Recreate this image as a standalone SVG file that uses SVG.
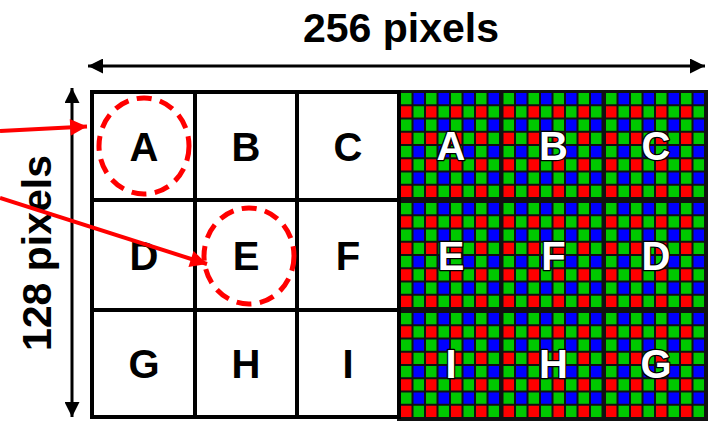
<svg xmlns="http://www.w3.org/2000/svg" width="711" height="421" viewBox="0 0 711 421">
<style>
.lbl{font-family:"Liberation Sans",Arial,sans-serif;font-weight:bold;font-size:40px;text-anchor:middle}
.dark{fill:#000}
.light{fill:#fff;stroke:#000;stroke-width:2.5;paint-order:stroke;stroke-linejoin:round}
.grid{fill:none;stroke:#000;stroke-width:4}
.ring{fill:none;stroke:#ff0000;stroke-width:5;stroke-dasharray:15 8.5}
.red{stroke:#ff0000;stroke-width:4;fill:none}
.blk{stroke:#000;stroke-width:3;fill:none}
.title{font-family:"Liberation Sans",Arial,sans-serif;font-weight:bold;font-size:41px;text-anchor:middle;fill:#000}
.g{fill:#00c800}.b{fill:#0000ff}.r{fill:#ff0000}
</style>
<defs>
<g id="rowGB">
<rect class="g" x="0" width="10.5" height="11.25"/><rect class="b" x="12.5" width="10.5" height="11.25"/>
<rect class="g" x="25" width="10.5" height="11.25"/><rect class="b" x="37.5" width="10.5" height="11.25"/>
<rect class="g" x="50" width="10.5" height="11.25"/><rect class="b" x="62.5" width="10.5" height="11.25"/>
<rect class="g" x="75" width="10.5" height="11.25"/><rect class="b" x="87.5" width="10.5" height="11.25"/>
</g>
<g id="rowRG">
<rect class="r" x="0" width="10.5" height="11.25"/><rect class="g" x="12.5" width="10.5" height="11.25"/>
<rect class="r" x="25" width="10.5" height="11.25"/><rect class="g" x="37.5" width="10.5" height="11.25"/>
<rect class="r" x="50" width="10.5" height="11.25"/><rect class="g" x="62.5" width="10.5" height="11.25"/>
<rect class="r" x="75" width="10.5" height="11.25"/><rect class="g" x="87.5" width="10.5" height="11.25"/>
</g>
<g id="tile">
<use href="#rowGB" y="0"/><use href="#rowRG" y="13.25"/>
<use href="#rowGB" y="26.5"/><use href="#rowRG" y="39.75"/>
<use href="#rowGB" y="53"/><use href="#rowRG" y="66.25"/>
<use href="#rowGB" y="79.5"/><use href="#rowRG" y="92.75"/>
</g>
<marker id="ahK" viewBox="0 0 10 10" refX="10" refY="5" markerWidth="5.5" markerHeight="5" markerUnits="strokeWidth" orient="auto-start-reverse">
<path d="M0,0 L10,5 L0,10 z" fill="#000"/>
</marker>
<marker id="ahR" viewBox="0 0 10 10" refX="10" refY="5" markerWidth="5" markerHeight="4.2" markerUnits="strokeWidth" orient="auto">
<path d="M0,0 L10,5 L0,10 z" fill="#ff0000"/>
</marker>
</defs>
<rect width="711" height="421" fill="#fff"/>

<text class="title" x="401" y="42">256 pixels</text>
<text class="title" transform="translate(51,253) rotate(-90)">128 pixels</text>

<g id="dimensions">
<line class="blk" x1="88" y1="66" x2="705" y2="66" marker-start="url(#ahK)" marker-end="url(#ahK)"/>
<line class="blk" x1="72" y1="88" x2="72" y2="417" marker-start="url(#ahK)" marker-end="url(#ahK)"/>
</g>

<g id="mosaic-bg">
<rect x="397" y="90" width="311" height="331" fill="#111"/>
</g>

<g id="left-grid">
<rect x="92" y="92" width="307" height="325" fill="#fff"/>
<rect class="grid" x="92" y="92" width="307" height="325"/>
<line class="grid" x1="195" y1="92" x2="195" y2="417"/>
<line class="grid" x1="297" y1="92" x2="297" y2="417"/>
<line class="grid" x1="92" y1="200" x2="399" y2="200"/>
<line class="grid" x1="92" y1="310" x2="399" y2="310"/>
</g>

<g id="cell-A"><text class="lbl dark" x="144" y="161">A</text></g>
<g id="cell-B"><text class="lbl dark" x="246" y="161">B</text></g>
<g id="cell-C"><text class="lbl dark" x="348" y="161">C</text></g>
<g id="cell-D"><text class="lbl dark" x="144" y="270">D</text></g>
<g id="cell-E"><text class="lbl dark" x="246" y="270">E</text></g>
<g id="cell-F"><text class="lbl dark" x="348" y="270">F</text></g>
<g id="cell-G"><text class="lbl dark" x="144" y="378">G</text></g>
<g id="cell-H"><text class="lbl dark" x="246" y="378">H</text></g>
<g id="cell-I"><text class="lbl dark" x="348" y="378">I</text></g>

<g id="mosaic-A"><use href="#tile" x="401" y="93"/><text class="lbl light" x="451" y="160">A</text></g>
<g id="mosaic-B"><use href="#tile" x="503.5" y="93"/><text class="lbl light" x="553.5" y="160">B</text></g>
<g id="mosaic-C"><use href="#tile" x="606" y="93"/><text class="lbl light" x="656" y="160">C</text></g>
<g id="mosaic-E"><use href="#tile" x="401" y="203"/><text class="lbl light" x="451" y="270">E</text></g>
<g id="mosaic-F"><use href="#tile" x="503.5" y="203"/><text class="lbl light" x="553.5" y="270">F</text></g>
<g id="mosaic-D"><use href="#tile" x="606" y="203"/><text class="lbl light" x="656" y="270">D</text></g>
<g id="mosaic-I"><use href="#tile" x="401" y="313"/><text class="lbl light" x="451" y="378">I</text></g>
<g id="mosaic-H"><use href="#tile" x="503.5" y="313"/><text class="lbl light" x="553.5" y="378">H</text></g>
<g id="mosaic-G"><use href="#tile" x="606" y="313"/><text class="lbl light" x="656" y="378">G</text></g>

<g id="highlights">
<ellipse class="ring" cx="144" cy="146" rx="45" ry="48"/>
<ellipse class="ring" cx="249" cy="256" rx="45" ry="48"/>
</g>

<g id="connectors">
<line class="red" x1="0" y1="131" x2="87" y2="126.5" marker-end="url(#ahR)"/>
<line class="red" x1="0" y1="198" x2="207" y2="264" marker-end="url(#ahR)"/>
</g>
</svg>
